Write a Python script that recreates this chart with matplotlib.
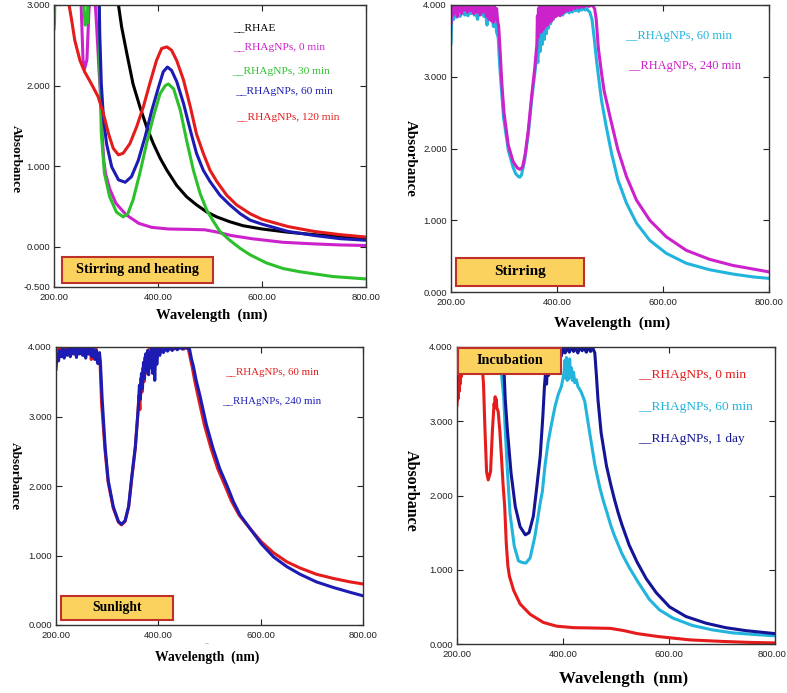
import matplotlib
matplotlib.use("Agg")
import matplotlib.pyplot as plt
from matplotlib.patches import Rectangle
from matplotlib.ticker import FormatStrFormatter
from matplotlib.transforms import ScaledTranslation

W, H = 787, 693

# ---------------- data (wavelength nm, absorbance) ----------------
# panel 1 : stirring and heating
p1_rhae = [(200, 4.0), (300, 4.0), (318, 3.3), (324, 3.0), (330, 2.73), (340, 2.40), (352, 2.02),
           (365, 1.74), (378, 1.49), (391, 1.28), (404, 1.10), (417, 0.95), (436, 0.76), (455, 0.62),
           (474, 0.52), (494, 0.43), (513, 0.37), (538, 0.31), (564, 0.26), (600, 0.22), (650, 0.18),
           (700, 0.15), (750, 0.13), (800, 0.11)]

# RHAgNPs 0 min, shown in panel 1 (magenta) and panel 4 (red)
agnp_0min = [(200, 3.22), (201, 3.45), (202, 3.30), (203, 3.55), (204, 3.40), (205, 3.62), (206, 3.50),
             (207, 3.70), (208, 3.60), (210, 3.80), (215, 3.90), (220, 3.95), (230, 3.90), (240, 3.95),
             (247, 3.80), (250, 3.50), (252.7, 2.90), (255.8, 2.32), (258.9, 2.21), (263.3, 2.32),
             (267, 2.90), (270, 3.24), (271, 3.18), (272, 3.33), (273, 3.22), (274, 3.30), (275.2, 3.18),
             (277.7, 3.13), (280.9, 2.86), (284, 2.50), (287, 2.14), (290, 1.85), (293, 1.35), (296, 1.05),
             (299, 0.91), (307, 0.72), (319, 0.54), (338, 0.40), (363, 0.29), (388, 0.24), (420, 0.22),
             (460, 0.215), (490, 0.21), (515, 0.18), (540, 0.14), (580, 0.10), (640, 0.055), (700, 0.035),
             (750, 0.022), (800, 0.015)]

p1_30min = [(200, 2.70), (201, 2.78), (202, 3.3), (204, 4.0), (256, 4.0), (258, 2.9), (260, 2.75),
            (262, 2.9), (264, 2.78), (266, 3.3), (268, 4.0), (285, 4.0), (288, 2.23), (291, 1.40),
            (297, 0.91), (307, 0.62), (320, 0.43), (333, 0.37), (342, 0.41), (352, 0.58), (365, 0.91),
            (378, 1.28), (391, 1.61), (404, 1.90), (414, 2.00), (420, 2.02), (430, 1.96), (443, 1.69),
            (455, 1.32), (468, 0.95), (481, 0.66), (494, 0.45), (507, 0.31), (519, 0.19), (538, 0.08),
            (558, -0.02), (577, -0.10), (608, -0.20), (640, -0.27), (672, -0.31), (736, -0.37), (800, -0.40)]

p1_60min = [(200, 4.0), (284, 4.0), (287, 3.0), (288, 2.64), (291, 2.02), (295, 1.61), (301, 1.28),
            (311, 0.99), (324, 0.83), (337, 0.80), (349, 0.87), (362, 1.07), (375, 1.36), (388, 1.69),
            (401, 1.98), (410, 2.17), (418, 2.23), (426, 2.19), (436, 2.05), (449, 1.78), (462, 1.45),
            (474, 1.16), (487, 0.95), (500, 0.81), (519, 0.64), (538, 0.52), (558, 0.41), (577, 0.33),
            (600, 0.28), (650, 0.19), (700, 0.14), (750, 0.10), (800, 0.08)]

p1_120min = [(200, 4.0), (225, 4.0), (229, 3.0), (234, 2.81), (240, 2.56), (250, 2.31), (259, 2.17),
             (272, 2.02), (285, 1.86), (295, 1.65), (305, 1.40), (314, 1.22), (324, 1.14), (333, 1.16),
             (346, 1.28), (359, 1.49), (372, 1.74), (384, 2.02), (397, 2.31), (407, 2.46), (417, 2.48),
             (426, 2.44), (436, 2.31), (449, 2.07), (462, 1.74), (474, 1.40), (487, 1.16), (500, 0.95),
             (513, 0.81), (532, 0.64), (551, 0.52), (577, 0.41), (600, 0.34), (650, 0.25), (700, 0.19),
             (750, 0.15), (800, 0.12)]

# panel 2 : stirring
p2_60min = [(200, 3.46), (201, 3.72), (202, 3.86), (205, 3.80), (208, 3.88), (211, 3.83), (214, 3.90),
            (217, 3.84), (220, 3.88), (223, 3.93), (226, 3.86), (229, 3.91), (232, 3.85), (235, 3.92),
            (238, 3.88), (241, 3.94), (244, 3.86), (247, 3.90), (250, 3.80), (253, 3.92), (256, 3.87),
            (259, 3.94), (262, 3.84), (265, 3.90), (268, 3.72), (271, 3.88), (274, 3.80), (277, 3.86),
            (280, 3.70), (283, 3.84), (286, 3.62), (289, 3.55), (292, 3.14), (299, 2.44), (308, 1.98),
            (317, 1.74), (322, 1.65), (327, 1.61), (330, 1.60), (333, 1.63), (339, 1.84), (346, 2.21),
            (352, 2.67), (358, 3.04), (362, 3.30), (364, 3.20), (366, 3.55), (368, 3.35), (370, 3.62),
            (372, 3.45), (374, 3.70), (376, 3.52), (378, 3.75), (380, 3.60), (382, 3.80), (384, 3.68),
            (386, 3.86), (388, 3.74), (390, 3.90), (393, 3.80), (396, 3.92), (399, 3.85), (402, 3.94),
            (405, 3.88), (408, 3.95), (411, 3.86), (414, 3.93), (417, 3.90), (420, 3.96), (423, 3.89),
            (426, 3.94), (429, 3.90), (432, 3.96), (435, 3.92), (438, 3.95), (441, 3.91), (444, 3.96),
            (447, 3.93), (450, 3.97), (453, 3.93), (456, 3.95), (459, 3.92), (462, 3.90), (466, 3.80),
            (470, 3.55), (475, 3.20), (480, 2.90), (484, 2.67), (493, 2.30), (503, 1.93), (515, 1.56),
            (531, 1.24), (550, 0.96), (575, 0.72), (606, 0.54), (644, 0.40), (688, 0.31), (732, 0.25),
            (770, 0.21), (800, 0.19)]

p2_240min = [(200, 3.74), (201, 3.92), (202, 4.0), (204, 3.86), (206, 4.0), (208, 3.90), (210, 3.98),
             (212, 3.84), (214, 4.0), (216, 3.92), (218, 3.97), (220, 3.88), (222, 4.0), (225, 3.93),
             (228, 4.0), (231, 3.90), (234, 3.98), (237, 3.92), (240, 4.0), (243, 3.88), (246, 3.99),
             (249, 3.90), (252, 4.0), (255, 3.86), (258, 3.98), (261, 3.90), (264, 4.0), (267, 3.84),
             (270, 3.97), (272, 3.80), (274, 4.0), (276, 3.78), (278, 3.96), (280, 3.76), (282, 3.98),
             (284, 3.80), (286, 3.95), (288, 3.78), (290, 3.70), (292, 3.45), (296, 2.90), (300, 2.50),
             (308, 2.05), (317, 1.82), (325, 1.73), (330, 1.71), (335, 1.74), (340, 1.92), (346, 2.27),
             (352, 2.72), (358, 3.12), (362, 3.45), (363, 3.85), (364, 3.55), (365, 3.95), (366, 3.62),
             (367, 4.0), (368, 3.66), (369, 3.98), (370, 3.62), (371, 4.0), (372, 3.70), (373, 4.0),
             (374, 3.66), (375, 3.98), (376, 3.72), (377, 4.0), (378, 3.70), (379, 4.0), (380, 3.75),
             (381, 4.0), (382, 3.72), (383, 3.98), (384, 3.78), (385, 4.0), (386, 3.76), (387, 4.0),
             (388, 3.80), (389, 3.98), (390, 3.78), (392, 4.0), (394, 3.82), (396, 4.0), (398, 3.84),
             (400, 3.98), (402, 3.86), (404, 4.0), (406, 3.85), (408, 4.0), (410, 3.88), (412, 4.0),
             (415, 3.90), (418, 4.0), (421, 3.92), (424, 4.0), (427, 3.93), (430, 4.0), (434, 3.95),
             (438, 4.0), (442, 3.96), (446, 4.0), (450, 3.97), (455, 4.0), (460, 3.98), (466, 4.0),
             (471, 3.95), (474, 3.80), (478, 3.40), (484, 3.05), (489, 2.80), (493, 2.67), (503, 2.35),
             (515, 1.98), (531, 1.61), (550, 1.28), (575, 1.00), (606, 0.77), (644, 0.58), (688, 0.455),
             (732, 0.37), (770, 0.32), (800, 0.28)]

# panel 3 : sunlight
p3_60min = [(200, 3.88), (202, 3.96), (204, 3.86), (206, 3.98), (209, 3.90), (212, 3.97), (215, 3.88),
            (218, 3.99), (221, 3.92), (224, 3.98), (227, 3.90), (230, 4.0), (233, 3.93), (236, 3.98),
            (239, 3.88), (242, 3.97), (245, 3.92), (248, 4.0), (251, 3.90), (254, 3.98), (257, 3.86),
            (260, 3.96), (263, 3.90), (266, 3.99), (269, 3.82), (272, 3.95), (275, 3.88), (278, 3.98),
            (281, 3.78), (284, 3.90), (286, 3.80), (289, 3.20), (296, 2.50), (302, 2.05), (312, 1.68),
            (322, 1.48), (328, 1.44), (335, 1.49), (342, 1.70), (348, 2.10), (355, 2.55), (360, 3.05),
            (362, 3.30), (364, 3.10), (366, 3.55), (368, 3.35), (370, 3.70), (372, 3.50), (374, 3.85),
            (376, 3.62), (378, 3.92), (380, 3.70), (382, 3.97), (384, 3.80), (386, 4.0), (388, 3.85),
            (390, 3.98), (392, 3.75), (394, 4.0), (397, 3.90), (400, 4.0), (404, 3.93), (408, 4.0),
            (412, 3.95), (416, 4.0), (420, 3.96), (425, 4.0), (430, 3.97), (435, 4.0), (440, 3.98),
            (445, 4.0), (450, 3.97), (455, 4.0), (459, 3.96), (463, 3.82), (466, 3.72), (471, 3.52),
            (477, 3.31), (490, 2.88), (503, 2.54), (516, 2.25), (530, 2.01), (543, 1.78), (558, 1.58),
            (580, 1.38), (601, 1.20), (625, 1.04), (651, 0.91), (677, 0.82), (709, 0.73), (742, 0.67),
            (775, 0.62), (800, 0.59)]

p3_240min = [(200, 3.68), (201, 3.78), (203, 3.90), (205, 3.80), (207, 3.95), (210, 3.86), (213, 3.98),
             (216, 3.84), (219, 3.96), (222, 3.88), (225, 4.0), (228, 3.86), (231, 3.97), (234, 3.90),
             (237, 4.0), (240, 3.85), (243, 3.98), (246, 3.90), (249, 4.0), (252, 3.88), (255, 3.97),
             (258, 3.84), (261, 3.98), (264, 3.90), (267, 4.0), (270, 3.86), (273, 3.97), (276, 3.82),
             (279, 3.95), (282, 3.76), (285, 3.92), (287, 3.75), (290, 3.28), (296, 2.56), (302, 2.08),
             (312, 1.70), (322, 1.49), (328, 1.45), (335, 1.50), (342, 1.71), (348, 2.13), (355, 2.56),
             (361, 3.14), (363, 3.45), (365, 3.25), (367, 3.62), (369, 3.40), (371, 3.78), (373, 3.55),
             (375, 3.90), (377, 3.65), (379, 3.95), (381, 3.60), (383, 3.92), (385, 3.70), (387, 4.0),
             (389, 3.62), (391, 3.96), (393, 3.52), (395, 3.98), (397, 3.75), (400, 4.0), (403, 3.88),
             (406, 4.0), (410, 3.92), (414, 4.0), (418, 3.94), (422, 4.0), (427, 3.95), (432, 4.0),
             (437, 3.96), (442, 4.0), (447, 3.97), (452, 4.0), (457, 3.98), (461, 3.97), (465, 3.82),
             (468, 3.74), (474, 3.52), (481, 3.31), (494, 2.88), (507, 2.54), (520, 2.25), (534, 2.01),
             (547, 1.77), (560, 1.58), (580, 1.38), (601, 1.17), (625, 0.98), (651, 0.84), (677, 0.73),
             (709, 0.62), (742, 0.54), (775, 0.47), (800, 0.42)]

# panel 4 : incubation
p4_60min = [(200, 4.0), (280, 4.0), (284, 3.63), (288, 3.34), (291, 2.89), (295, 2.35), (300, 1.76),
            (308, 1.32), (316, 1.12), (322, 1.10), (330, 1.09), (338, 1.16), (347, 1.45), (357, 1.90),
            (361, 2.05), (366, 2.40), (372, 2.72), (378, 2.95), (385, 3.20), (391, 3.36), (397, 3.47),
            (400, 3.58), (402, 3.66), (403.5, 3.82), (405, 3.58), (406.5, 3.86), (408, 3.55), (409.5, 3.80),
            (411, 3.57), (412.5, 3.84), (414, 3.60), (416, 3.72), (418, 3.55), (420, 3.66), (422, 3.52),
            (425, 3.56), (428, 3.47), (434, 3.40), (441, 3.27), (450, 2.86), (460, 2.42), (469, 2.12),
            (476, 1.93), (483, 1.77), (490, 1.60), (497, 1.46), (511, 1.22), (525, 1.03), (542, 0.83),
            (563, 0.60), (582, 0.46), (607, 0.35), (644, 0.25), (682, 0.19), (720, 0.15), (757, 0.13),
            (800, 0.11)]

p4_1day = [(200, 4.0), (284, 4.0), (289, 3.63), (291, 3.30), (295, 2.89), (302, 2.30), (310, 1.85),
           (319, 1.58), (329, 1.47), (336, 1.50), (344, 1.72), (350, 2.08), (357, 2.53), (362, 3.07),
           (365, 3.47), (367, 3.65), (369, 3.50), (371, 3.80), (373, 3.62), (375, 3.88), (377, 3.70),
           (379, 3.95), (381, 3.78), (383, 3.97), (385, 3.85), (388, 4.0), (391, 3.90), (394, 3.98),
           (397, 3.88), (400, 4.0), (404, 3.92), (408, 3.99), (412, 3.93), (416, 4.0), (420, 3.94),
           (424, 3.99), (428, 3.92), (432, 4.0), (436, 3.95), (440, 3.99), (444, 3.93), (448, 4.0),
           (452, 3.94), (456, 3.99), (460, 3.92), (463, 3.62), (466, 3.29), (472, 2.84), (482, 2.40),
           (490, 2.15), (497, 1.95), (504, 1.77), (511, 1.61), (525, 1.33), (540, 1.10), (557, 0.88),
           (576, 0.69), (601, 0.50), (632, 0.37), (670, 0.28), (707, 0.22), (745, 0.18), (800, 0.14)]

x_ticks = [200, 400, 600, 800]
p1_yticks = [-0.5, 0.0, 1.0, 2.0, 3.0]
p_yticks = [0.0, 1.0, 2.0, 3.0, 4.0]

# colours
RED = "#e41c1c"
BLUE = "#1c1cb4"
DARKBLUE = "#141496"
GREEN = "#2cc02c"
MAGENTA = "#cc22cc"
CYAN = "#22b4dc"
BLACK = "#000000"

SERIF = "Liberation Serif"
SANS = "Liberation Sans"

fig = plt.figure(figsize=(W / 100, H / 100), dpi=100)
fig.patch.set_facecolor("white")


def fx(px):
    return px / W


def fy(py):
    return 1 - py / H


def add_panel(l, t, r, b, ylim, yticks):
    ax = fig.add_axes([fx(l), fy(b), (r - l) / W, (b - t) / H])
    ax.set_xlim(200, 800)
    ax.set_ylim(*ylim)
    ax.set_xticks(x_ticks)
    ax.set_yticks(yticks)
    ax.xaxis.set_major_formatter(FormatStrFormatter("%.2f"))
    ax.yaxis.set_major_formatter(FormatStrFormatter("%.3f"))
    ax.tick_params(direction="in", top=True, right=True, length=4, width=0.8,
                   labelsize=6.8, labelcolor="#222222", color="#222222")
    ax.tick_params(axis="x", pad=4)
    ax.tick_params(axis="y", pad=3)
    for lab in ax.get_xticklabels() + ax.get_yticklabels():
        lab.set_fontfamily(SANS)
    for sp in ax.spines.values():
        sp.set_linewidth(1.0)
        sp.set_color("#333333")
    return ax


def curve(ax, pts, color):
    wl = [p[0] for p in pts]
    ab = [p[1] for p in pts]
    ax.plot(wl, ab, color=color, lw=2.2, solid_joinstyle="round")


def labels(xc, xy, yc, yy, xsize, ysize):
    fig.text(fx(xc), fy(xy), "Wavelength  (nm)", ha="center", va="center",
             family=SERIF, weight="bold", size=xsize)
    fig.text(fx(yc), fy(yy), "Absorbance", ha="center", va="center", rotation=270,
             family=SERIF, weight="bold", size=ysize)


def legend_text(px, py, text, color, size):
    fig.text(fx(px), fy(py), text, ha="left", va="center", color=color,
             family=SERIF, size=size)


def tag(l, t, r, b, text, size):
    fig.add_artist(Rectangle((fx(l), fy(b)), (r - l) / W, (b - t) / H, transform=fig.transFigure,
                             facecolor="#fcd25e", edgecolor="#c0302a", lw=1.5, zorder=5))
    fig.text(fx((l + r) / 2), fy((t + b) / 2), text, ha="center", va="center",
             family=SERIF, weight="bold", size=size, zorder=6)


# panel 1
ax1 = add_panel(54, 5, 366, 287, (-0.5, 3.0), p1_yticks)
curve(ax1, p1_rhae, BLACK)
curve(ax1, agnp_0min, MAGENTA)
curve(ax1, p1_30min, GREEN)
curve(ax1, p1_60min, BLUE)
curve(ax1, p1_120min, RED)
labels(212, 315, 16, 159, 10.5, 9.6)
legend_text(233, 28, "__RHAE", BLACK, 8.2)
legend_text(233, 48, "__RHAgNPs, 0 min", MAGENTA, 8.2)
legend_text(232, 72, "__RHAgNPs, 30 min", GREEN, 8.2)
legend_text(235, 92, "__RHAgNPs, 60 min", BLUE, 8.2)
legend_text(236, 117, "__RHAgNPs, 120 min", RED, 8.2)
tag(62, 257, 213, 283, "Stirring and heating", 10.2)

# panel 2
ax2 = add_panel(451, 5, 769, 292, (0.0, 4.0), p_yticks)
curve(ax2, p2_60min, CYAN)
curve(ax2, p2_240min, MAGENTA)
labels(612, 323, 410, 158, 11, 10.8)
legend_text(625, 36, "__RHAgNPs, 60 min", CYAN, 8.9)
legend_text(628, 66, "__RHAgNPs, 240 min", MAGENTA, 8.9)
tag(456, 258, 584, 286, "Stirring", 11)

# panel 3
ax3 = add_panel(56, 347, 363, 625, (0.0, 4.0), p_yticks)
curve(ax3, p3_60min, RED)
curve(ax3, p3_240min, BLUE)
labels(207, 657, 15, 476, 9.8, 9.6)
legend_text(225, 373, "__RHAgNPs, 60 min", RED, 7.8)
legend_text(222, 401, "__RHAgNPs, 240 min", BLUE, 7.8)
tag(61, 596, 173, 620, "Sunlight", 9.8)
fig.text(fx(207), fy(643), "--", ha="center", va="center", color="#999999", size=5)

# panel 4
ax4 = add_panel(457, 347, 775, 644, (0.0, 4.0), p_yticks)
curve(ax4, agnp_0min, RED)
curve(ax4, p4_60min, CYAN)
curve(ax4, p4_1day, DARKBLUE)
labels(624, 679, 411, 491, 12.2, 11.5)
legend_text(638, 375, "__RHAgNPs, 0 min", RED, 9.6)
legend_text(638, 407, "__RHAgNPs, 60 min", CYAN, 9.6)
legend_text(638, 439, "__RHAgNPs, 1 day", DARKBLUE, 9.6)
tag(458, 348, 561, 374, "Incubation", 10.3)

# last x label of panel 4 sits on the figure edge: nudge it left a little
last = ax4.xaxis.get_major_ticks()[-1].label1
last.set_transform(last.get_transform() + ScaledTranslation(-0.03, 0, fig.dpi_scale_trans))

fig.savefig("out.png", dpi=100, facecolor="white")
